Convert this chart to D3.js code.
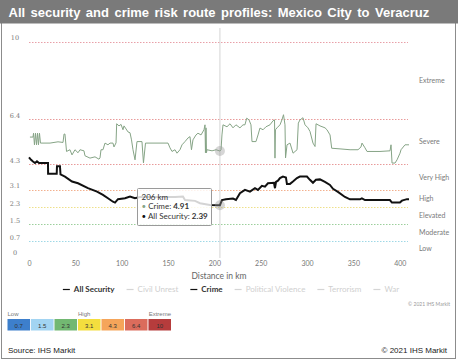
<!DOCTYPE html>
<html>
<head>
<meta charset="utf-8">
<script src="https://cdn.jsdelivr.net/npm/d3@7"></script>
<style>
  body { margin: 0; background: #fff; }
  svg { display: block; font-family: "Liberation Sans", Arial, sans-serif; }
</style>
</head>
<body>
<div id="graph"></div>
<script>
var w = 458, h = 362

// risk thresholds on the y axis
var yTicks = [0, 0.7, 1.5, 2.3, 3.1, 4.3, 6.4, 10]
var bandNames = ['Low', 'Moderate', 'Elevated', 'High', 'Very High', 'Severe', 'Extreme']
var xTicks = [0, 50, 100, 150, 200, 250, 300, 350, 400]

// crime profile (km, score)
var crimeKm = [1, 4.3, 4.9, 5.9, 7, 8.1, 9.2, 10.2, 11.3, 12.4, 22.7, 31.3, 36.7, 37.8, 38.8, 40.5, 44.2, 46.4, 49.6, 52.9,
  55, 59.3, 60.4, 65.8, 71.2, 75.5, 76.6, 77.7, 79.8, 82, 85.2, 87.4, 90.6, 91.7, 93.9, 94.6, 97.1, 99.3, 101.4, 102.5,
  104.7, 106.8, 109, 110.6, 112.2, 114.4, 116.5, 121.9, 123.5, 125.7, 150, 152.1, 154.3, 157.5, 159.7, 162.9, 165.1, 168.3, 171.6, 173.7,
  175.3, 176.9, 180.2, 182.3, 185.6, 188.8, 189.9, 190.4, 191, 191.5, 192, 197.5, 201.8, 206, 207.2, 208.2, 209.3, 213.6, 216.9, 220.1,
  223.3, 227.6, 230.9, 233, 234.9, 237.4, 239.5, 240.6, 244.9, 247.1, 249.2, 252.5, 255.7, 260, 263.3, 264.9, 265.4, 265.9, 267.6, 270.8,
  272.9, 274.6, 276.2, 276.8, 278.4, 281.6, 284.9, 289.2, 290.6, 292.4, 295.6, 297.8, 301, 303.2, 306.4, 308.6, 309.7, 314, 319.4, 321.5,
  324.8, 326.6, 335.6, 346.4, 355, 358.2, 359.3, 362.5, 364.7, 378.7, 389.5, 390.6, 391.7, 394.9, 397.1, 400.3, 401.4, 405.7, 410]
var crimeVal = [5.56, 5.56, 5.74, 5.2, 5.74, 5.2, 5.74, 5.2, 5.74, 5.28, 5.28, 5.34, 5.31, 5.7, 5.7, 4.89, 4.97, 4.73, 4.97, 4.83,
  4.97, 4.92, 4.69, 4.58, 4.64, 4.53, 4.59, 4.97, 4.97, 5.28, 5.2, 5.28, 5.28, 5.1, 5.29, 6.18, 6.08, 6.15, 5.9, 6.08,
  5.94, 5.8, 5.76, 5.43, 4.97, 4.5, 5.35, 5.35, 4.36, 5.28, 5.28, 5.06, 4.89, 4.97, 4.81, 4.97, 5.2, 5.35, 5.52, 5.58,
  4.97, 5.43, 5.66, 5.74, 5.66, 5.9, 6.13, 4.83, 5.99, 4.83, 4.97, 4.92, 4.97, 4.91, 4.97, 5.66, 6.13, 6.04, 6.18, 5.99,
  6.13, 5.99, 6.13, 6.13, 6.44, 6.36, 6.13, 5.35, 5.35, 5.66, 5.98, 5.9, 6.04, 6.13, 6.32, 6.36, 4.58, 5.9, 5.99, 6.13,
  6.36, 6.6, 6.13, 4.59, 5.2, 5.28, 4.81, 4.97, 6.21, 6.36, 6.46, 6.13, 5.99, 5.82, 5.28, 5.12, 6.18, 6.08, 5.99, 5.9,
  5.66, 5.04, 5.01, 4.97, 4.97, 5.1, 5.28, 5.06, 4.89, 4.89, 4.92, 5.2, 4.35, 4.35, 4.5, 4.81, 4.97, 5.2, 5.2]

// all security profile (km, score)
var allKm = [0, 2.2, 4.3, 6.5, 8.6, 10.8, 20.5, 20.6, 29.9, 30.2, 33.4, 34, 38.8, 46.4, 52.9, 63.6, 73.4, 79.8, 85.2, 90.6,
  92.8, 96, 103.6, 109, 114.3, 119.7, 130.5, 141.3, 157.5, 166.1, 168.3, 179.1, 184.5, 195.3, 206, 208.2, 212.5, 220.1, 223.3, 227.6,
  233, 238.4, 243.8, 247, 251.3, 254.6, 257.8, 264.3, 265.4, 266.5, 268.6, 270.8, 274, 277.2, 278.3, 281.6, 284.8, 289.1, 292.3, 299.9,
  303.1, 306.4, 309.6, 313.9, 319.3, 324.7, 328, 333.3, 340.9, 346.3, 357.1, 359.2, 362.5, 389.4, 391.6, 400.2, 402.4, 407.8, 410]
var allVal = [4.62, 4.5, 4.42, 4.35, 4.43, 4.35, 4.35, 3.85, 3.85, 4.2, 4.2, 3.82, 3.72, 3.49, 3.41, 3.18, 3.02, 2.87, 2.71, 2.55,
  2.51, 2.67, 2.71, 2.79, 2.71, 2.77, 2.77, 2.77, 2.77, 2.79, 2.63, 2.59, 2.48, 2.4, 2.39, 2.63, 2.67, 2.7, 2.63, 2.95,
  3.1, 3.02, 3.18, 3.1, 3.29, 3.25, 3.41, 3.43, 3.18, 3.47, 3.53, 3.65, 3.72, 3.68, 3.38, 3.38, 3.49, 3.65, 3.72, 3.72,
  3.57, 3.43, 3.57, 3.59, 3.47, 3.33, 3.15, 3.01, 2.77, 2.66, 2.66, 2.71, 2.63, 2.63, 2.51, 2.51, 2.6, 2.67, 2.67]

var legendNames = ['All Security', 'Civil Unrest', 'Crime', 'Political Violence', 'Terrorism', 'War']
var legendActive = [true, false, true, false, false, false]
var scaleLabels = ['0.7', '1.5', '2.3', '3.1', '4.3', '6.4', '10']
var scaleHeads = ['Low', 'High', 'Extreme']
var hoverKm = 206

var gridColors = ['#e6e6e6', '#9fd8e6', '#9ccf9c', '#eee08a', '#f2b08e', '#e89a9a', '#e89a9a', '#e8a0a8']
var scaleColors = ['#3d7fcc', '#a2d4f2', '#72b872', '#f4de3e', '#f5a55a', '#db6c5c', '#b63c3c']
var crimeColor = '#86a486'

var svg = d3.select('#graph').append('svg')
    .attr('width', w).attr('height', h)

// frame + title bar
svg.append('rect').attr('x', 1.5).attr('y', 1.5).attr('width', w - 4).attr('height', h - 5)
    .style('fill', 'none').style('stroke', '#8c8c8c')
svg.append('rect').attr('x', 0).attr('y', 0).attr('width', w).attr('height', 23.5)
    .style('fill', '#7a7a7a')
var title = svg.append('text').attr('x', 8.5).attr('y', 17)
    .style('fill', '#fff').style('font-weight', 'bold').style('font-size', '13px')
    .text('All security  and crime risk route profiles:  Mexico City  to  Veracruz')
var tw = title.node().getComputedTextLength()
var nsp = title.text().split(' ').length - 1
title.style('word-spacing', ((428 - tw) / nsp) + 'px')

var x = d3.scaleLinear().domain([0, 410]).range([29, 409])
var y = d3.scaleLinear().domain([0, 10]).range([256.5, 41.7])

var chartFont = 'Lato, "Open Sans", sans-serif'
var g = svg.append('g').style('font-family', chartFont)

// dotted threshold lines
g.selectAll('line.grid').data(yTicks.slice(1)).enter().append('line')
    .attr('x1', x(0)).attr('x2', 408)
    .attr('y1', function(d){ return Math.round(y(d)) + 0.5 })
    .attr('y2', function(d){ return Math.round(y(d)) + 0.5 })
    .style('stroke', function(d, i){ return gridColors[i + 1] })
    .style('stroke-dasharray', '1.5,1.5')

// y tick labels
g.selectAll('text.yt').data(yTicks).enter().append('text')
    .attr('x', 15).attr('y', function(d){ return y(d) - 1.5 })
    .attr('text-anchor', 'middle')
    .style('font-size', '6.5px').style('fill', '#777').style('font-family', '"DejaVu Serif", serif')
    .text(function(d){ return d })

// band names on the right
g.selectAll('text.band').data(bandNames).enter().append('text')
    .attr('x', 419).attr('y', function(d, i){ return y((yTicks[i] + yTicks[i + 1]) / 2) + 2.5 })
    .style('font-size', '7px').style('fill', '#7a7a7a')
    .text(function(d){ return d })

// x axis
var xAxis = d3.axisBottom(x).tickValues(xTicks).tickSize(0).tickPadding(0)
var xg = g.append('g').attr('transform', 'translate(0,261)').call(xAxis)
xg.select('.domain').remove()
xg.selectAll('text').style('font-size', '7px').style('fill', '#777').style('font-family', chartFont)

g.append('text').attr('x', 219).attr('y', 279).attr('text-anchor', 'middle')
    .style('font-size', '8.5px').style('fill', '#666').text('Distance in km')

// crosshair
g.append('line').attr('x1', x(hoverKm)).attr('x2', x(hoverKm)).attr('y1', 28).attr('y2', 258)
    .style('stroke', '#d4d4d4')

var line = d3.line().x(function(d){ return x(d[0]) }).y(function(d){ return y(d[1]) })
var crime = crimeKm.map(function(k, i){ return [k, crimeVal[i]] })
var all = allKm.map(function(k, i){ return [k, allVal[i]] })

g.append('path').attr('d', line(crime))
    .style('fill', 'none').style('stroke', crimeColor).style('stroke-width', 1)
g.append('path').attr('d', line(all))
    .style('fill', 'none').style('stroke', '#111').style('stroke-width', 2)

// hover markers
var crimeAt = crimeVal[crimeKm.indexOf(hoverKm)]
var allAt = allVal[allKm.indexOf(hoverKm)]
;[crimeAt, allAt].forEach(function(v){
  g.append('circle').attr('cx', x(hoverKm)).attr('cy', y(v)).attr('r', 5)
      .style('fill', '#999').style('opacity', 0.4)
})

// tooltip
var tip = g.append('g').attr('transform', 'translate(137.5,188.5)')
tip.append('rect').attr('width', 74).attr('height', 37).attr('rx', 1)
    .style('fill', '#fff').style('fill-opacity', 0.82).style('stroke', '#9a9a9a')
tip.append('text').attr('x', 4).attr('y', 11).style('font-size', '8px').style('fill', '#333').text(hoverKm + ' km')
var t2 = tip.append('text').attr('x', 4).attr('y', 20.5).style('font-size', '8px').style('fill', '#333')
t2.append('tspan').style('fill', crimeColor).text('• ')
t2.append('tspan').text('Crime: ')
t2.append('tspan').style('font-weight', 'bold').text(crimeAt.toFixed(2))
var t3 = tip.append('text').attr('x', 4).attr('y', 30).style('font-size', '8px').style('fill', '#333')
t3.append('tspan').style('fill', '#111').text('• ')
t3.append('tspan').text('All Security: ')
t3.append('tspan').style('font-weight', 'bold').text(allAt.toFixed(2))

// legend
var lg = g.append('g').attr('transform', 'translate(0,292)')
var lx = 0
legendNames.forEach(function(name, i){
  var it = lg.append('g').attr('transform', 'translate(' + lx + ',0)')
  var col = legendActive[i] ? '#333' : '#cfcfcf'
  it.append('line').attr('x1', 0).attr('x2', 7).attr('y1', -2.5).attr('y2', -2.5)
      .style('stroke', legendActive[i] ? '#111' : '#d5d5d5').style('stroke-width', 1.2)
  var t = it.append('text').attr('x', 11).attr('y', 0).style('font-size', '8px')
      .style('fill', col).style('font-weight', legendActive[i] ? 'bold' : 'normal').text(name)
  lx += 11 + t.node().getComputedTextLength() + 12
})
lx -= 12
lg.attr('transform', 'translate(' + (231 - lx / 2) + ',292)')

g.append('text').attr('x', 450).attr('y', 305.5).attr('text-anchor', 'end')
    .style('font-size', '5px').style('fill', '#999').text('© 2021 IHS Markit')

// risk colour scale
var bx = d3.scaleBand().domain(scaleLabels).range([7.5, 171]).paddingInner(0.04)
var sg = svg.append('g')
sg.selectAll('rect').data(scaleLabels).enter().append('rect')
    .attr('x', function(d){ return bx(d) }).attr('y', 319)
    .attr('width', bx.bandwidth()).attr('height', 11.5)
    .style('fill', function(d, i){ return scaleColors[i] })
sg.selectAll('text.v').data(scaleLabels).enter().append('text')
    .attr('x', function(d){ return bx(d) + bx.bandwidth() / 2 }).attr('y', 327.5)
    .attr('text-anchor', 'middle').style('font-size', '6px').style('fill', '#333')
    .text(function(d){ return d })
var headAt = [scaleLabels[0], scaleLabels[3], scaleLabels[6]]
sg.selectAll('text.h').data(scaleHeads).enter().append('text')
    .attr('x', function(d, i){ return i == 2 ? bx(headAt[i]) + bx.bandwidth() : bx(headAt[i]) })
    .attr('text-anchor', function(d, i){ return i == 2 ? 'end' : 'start' })
    .attr('y', 315.5).style('font-size', '6px').style('fill', '#777')
    .text(function(d){ return d })

svg.append('text').attr('x', 8).attr('y', 353).style('font-size', '8px').style('fill', '#222')
    .text('Source:  IHS Markit')
svg.append('text').attr('x', 447).attr('y', 353).attr('text-anchor', 'end').style('font-size', '8px').style('fill', '#222')
    .text('© 2021  IHS Markit')
</script>
</body>
</html>
